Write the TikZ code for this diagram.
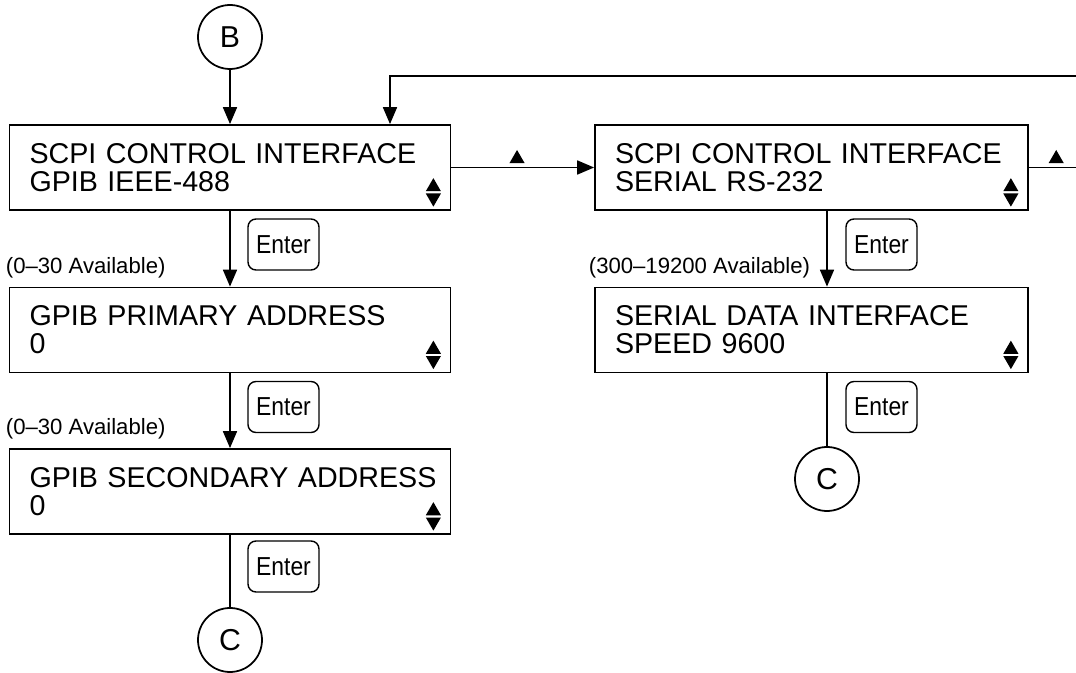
\documentclass[tikz,border=0pt]{standalone}
\usepackage{fontspec}
\setmainfont{Liberation Sans}
\newfontfamily\keyfont[FakeStretch=0.88]{Liberation Sans}
\usetikzlibrary{arrows.meta,calc,shapes.geometric}
\tikzset{>={Triangle[length=0.34cm,width=0.28cm]}}
\tikzstyle{screen}=[rectangle,draw,line width=1pt,minimum height=1.7cm,text width=8.02cm,inner xsep=0.4cm,align=left,font=\fontsize{16.3}{15.9}\selectfont]
\tikzstyle{keybox}=[rectangle,draw,line width=0.8pt,minimum height=1.02cm,minimum width=1.42cm,rounded corners=0.16cm,inner sep=0pt,font=\keyfont\fontsize{14.8}{16}\selectfont]
\tikzstyle{connector}=[circle,draw,line width=1pt,minimum size=1.28cm,inner sep=0pt,font=\fontsize{17.2}{18}\selectfont]
\tikzstyle{tri}=[regular polygon,regular polygon sides=3,fill,minimum size=0.35cm,inner sep=0pt]
\tikzstyle{availlabel}=[anchor=west,inner sep=0pt,font=\fontsize{12.6}{14}\selectfont]

\newcommand{\updown}[1]{%
	\node[tri] (#1up) at ($(#1.south east)+(-0.36,0.48)$) {};
	\node[tri,shape border rotate=180] (#1dn) at ($(#1.south east)+(-0.36,0.26)$) {};
}

\begin{document}
\begin{tikzpicture}[line width=1pt]
	\useasboundingbox (0,0) rectangle (21.52,-13.46);

	\node[connector] (conB) at (4.6, -0.74) {B};
	\node[screen] (scpi1) at (4.6, -3.35) {SCPI CONTROL INTERFACE\\GPIB IEEE-488};
	\node[screen, text width=7.86cm] (scpi2) at (16.23, -3.35) {SCPI CONTROL INTERFACE\\SERIAL RS-232};
	\node[screen] (gpib1) at (4.6, -6.6) {GPIB PRIMARY ADDRESS\\0};
	\node[screen] (gpib2) at (4.6, -9.83) {\mbox{GPIB SECONDARY ADDRESS}\\0};
	\node[screen, text width=7.86cm] (serial) at (16.23, -6.6) {SERIAL DATA INTERFACE\\SPEED 9600};
	\node[connector] (conC1) at (4.6, -12.8) {C};
	\node[connector] (conC2) at (16.54, -9.58) {C};

	\updown{scpi1}
	\updown{scpi2}
	\updown{gpib1}
	\updown{gpib2}
	\updown{serial}

	\node[keybox] (enter1) at (5.67, -4.89) {Enter};
	\node[keybox] (enter2) at (5.67, -8.14) {Enter};
	\node[keybox] (enter3) at (5.67, -11.33) {Enter};
	\node[keybox] (enter4) at (17.63, -4.89) {Enter};
	\node[keybox] (enter5) at (17.63, -8.14) {Enter};

	\node[availlabel] (avail1) at (0.1, -5.36) {(0--30 Available)};
	\node[availlabel] (avail2) at (0.1, -8.58) {(0--30 Available)};
	\node[availlabel] (avail3) at (11.76, -5.36) {(300--19200 Available)};

	\coordinate (loopin) at (21.52, -1.52);
	\coordinate (loopout) at (21.52, -3.35);

	\draw[->] (conB) -- (scpi1);
	\draw[->] (scpi1) -- (gpib1);
	\draw[->] (gpib1) -- (gpib2);
	\draw (gpib2) -- (conC1);
	\draw[->] (scpi1) -- (scpi2) node[tri, pos=0.46, above=0.07cm] (next1) {};
	\draw (scpi2) -- (loopout) node[tri, pos=0.58, above=0.07cm] (next2) {};
	\draw[->] (loopin) -| ([xshift=3.2cm]scpi1.north);
	\draw[->] (conC2 |- scpi2.south) -- (conC2 |- serial.north);
	\draw (conC2 |- serial.south) -- (conC2);
\end{tikzpicture}
\end{document}
